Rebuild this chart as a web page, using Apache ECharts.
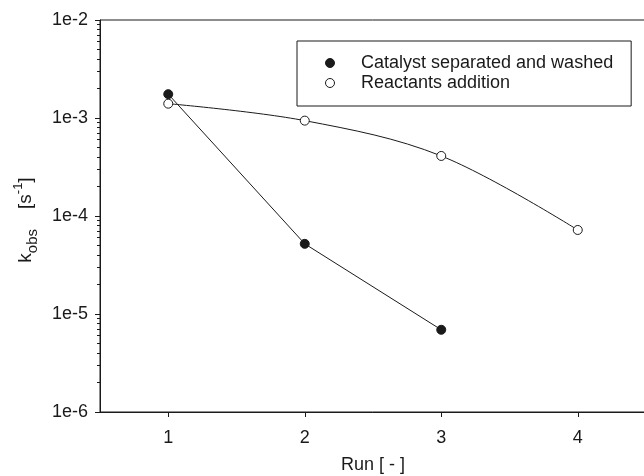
<!DOCTYPE html>
<html>
<head>
<meta charset="utf-8">
<script src="https://cdn.jsdelivr.net/npm/echarts@6/dist/echarts.min.js"></script>
<style>
  html, body { margin: 0; padding: 0; background: #fff; }
  #chart { width: 644px; height: 476px; }
</style>
</head>
<body>
<div id="chart"></div>
<script>
// run numbers and measured rate constants (s^-1)
const runs = [1, 2, 3, 4]
const washedValues = [1.75e-3, 5.2e-5, 6.9e-6]
const additionValues = [1.40e-3, 9.4e-4, 4.1e-4, 7.2e-5]
const xTicks = [1, 2, 3, 4]
const yTicks = [1e-6, 1e-5, 1e-4, 1e-3, 1e-2]
const seriesNames = ['Catalyst separated and washed', 'Reactants addition']

// minor ticks at 2..9 of every decade
const yMinorTicks = []
for (let e = -6; e < -2; e++) {
  for (let k = 2; k <= 9; k++) yMinorTicks.push(k * Math.pow(10, e))
}

const font = 'Liberation Sans, Arial, sans-serif'
const ink = '#1a1a1a'

const chart = echarts.init(document.getElementById('chart'))

const option = {
  animation: false,
  textStyle: { fontFamily: font, color: ink },
  grid: {
    left: 100,
    right: -2,
    top: 20,
    bottom: 64,
    outerBoundsMode: 'none',
    containLabel: false,
    show: true,
    borderColor: ink,
    borderWidth: 1
  },
  legend: {
    orient: 'vertical',
    left: 297,
    top: 41,
    padding: [12, 18, 13, 28],
    itemWidth: 52,
    itemHeight: 9,
    itemGap: 0,
    borderColor: ink,
    borderWidth: 1,
    textStyle: { fontSize: 18, lineHeight: 20, color: ink, fontFamily: font },
    data: [
      { name: seriesNames[0], icon: 'circle', itemStyle: { color: ink, borderColor: ink, borderWidth: 1 } },
      { name: seriesNames[1], icon: 'circle', itemStyle: { color: '#fff', borderColor: ink, borderWidth: 1 } }
    ]
  },
  xAxis: {
    type: 'value',
    min: 0.5,
    max: 4.5,
    name: 'Run [ - ]',
    nameLocation: 'middle',
    nameGap: 44,
    nameTextStyle: { fontSize: 18, color: ink },
    axisLine: { show: true, lineStyle: { color: ink, width: 1 } },
    axisTick: { show: true, inside: false, length: 5, customValues: xTicks, lineStyle: { color: ink } },
    axisLabel: { fontSize: 18, color: ink, margin: 17, customValues: xTicks },
    splitLine: { show: false }
  },
  yAxis: [
    {
      type: 'log',
      logBase: 10,
      min: 1e-6,
      max: 1e-2,
      name: '{k|k}{sub|obs}{n1|[s}{sup|-1}{n|]}',
      nameLocation: 'middle',
      nameRotate: 90,
      nameGap: 60,
      nameTextStyle: {
        color: ink,
        rich: {
          k: { fontSize: 19, fontFamily: font, color: ink, lineHeight: 28, verticalAlign: 'middle' },
          sub: { fontSize: 15, fontFamily: font, color: ink, lineHeight: 28, verticalAlign: 'bottom' },
          n1: { fontSize: 19, fontFamily: font, color: ink, lineHeight: 28, verticalAlign: 'middle', padding: [0, 0, 0, 20] },
          n: { fontSize: 19, fontFamily: font, color: ink, lineHeight: 28, verticalAlign: 'middle', padding: [0, 8, 0, 0] },
          sup: { fontSize: 13, fontFamily: font, color: ink, lineHeight: 28, verticalAlign: 'top' }
        }
      },
      axisLine: { show: true, lineStyle: { color: ink, width: 1 } },
      axisTick: { show: true, inside: false, length: 5, customValues: yTicks, lineStyle: { color: ink } },
      axisLabel: {
        fontSize: 18,
        color: ink,
        margin: 12,
        customValues: yTicks,
        formatter: v => '1e' + Math.round(Math.log10(v))
      },
      splitLine: { show: false }
    },
    {
      type: 'log',
      logBase: 10,
      min: 1e-6,
      max: 1e-2,
      position: 'left',
      axisLine: { show: false },
      axisTick: { show: true, inside: false, length: 3, customValues: yMinorTicks, lineStyle: { color: ink } },
      axisLabel: { show: false },
      splitLine: { show: false }
    }
  ],
  series: [
    {
      name: seriesNames[0],
      type: 'line',
      data: washedValues.map((v, i) => [runs[i], v]),
      symbol: 'circle',
      symbolSize: 9,
      lineStyle: { color: ink, width: 1 },
      itemStyle: { color: ink, borderColor: ink, borderWidth: 1 },
      z: 3
    },
    {
      name: seriesNames[1],
      type: 'line',
      data: additionValues.map((v, i) => [runs[i], v]),
      smooth: 0.35,
      symbol: 'circle',
      symbolSize: 9,
      showAllSymbol: true,
      lineStyle: { color: ink, width: 1 },
      itemStyle: { color: '#fff', borderColor: ink, borderWidth: 1 },
      z: 4
    }
  ]
}

chart.setOption(option)
</script>
</body>
</html>
